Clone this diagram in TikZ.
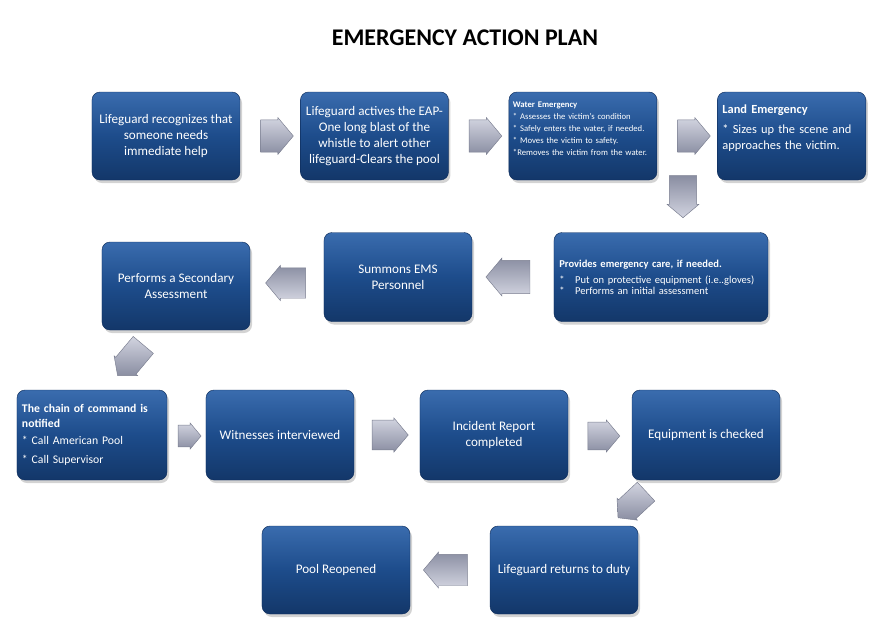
\documentclass[tikz,border=0pt]{standalone}
\usepackage{fontspec}
\setmainfont{Carlito}
\usetikzlibrary{positioning,shapes.arrows,shadows,calc}

\definecolor{boxtop}{HTML}{3A6CAE}
\definecolor{boxmid}{HTML}{1D4C8B}
\definecolor{boxbot}{HTML}{133769}
\definecolor{boxedge}{HTML}{0E2D5C}
\definecolor{arrowtop}{HTML}{D2D4E0}
\definecolor{arrowbot}{HTML}{8A8EA2}
\definecolor{arrowedge}{HTML}{7A7E90}

\begin{document}
\begin{tikzpicture}[
    x=0.03cm, y=-0.03cm,
    box/.style={draw=boxedge, rounded corners=0.24cm, minimum width=4.44cm, minimum height=2.64cm,
        top color=boxtop, bottom color=boxbot, middle color=boxmid, text=white, align=center,
        font=\fontsize{11.2}{13.6}\selectfont,
        drop shadow={opacity=0.35, shadow xshift=0.06cm, shadow yshift=-0.09cm}},
    leftbox/.style={box, align=left, inner xsep=0.18cm},
    blockarrow/.style={single arrow, draw=arrowedge, top color=arrowtop, bottom color=arrowbot,
        inner xsep=0pt, inner ysep=0.36cm, single arrow head extend=0.05cm, single arrow tip angle=100},
    leftarrow/.style={blockarrow, rotate=180, shading angle=180}
]
\useasboundingbox (0,0) rectangle (883,632);

\node[font=\fontsize{20.4}{24}\selectfont\bfseries] (title) at (465,38) {EMERGENCY ACTION PLAN};

% first row
\node[box] (recog) at (166,136) {Lifeguard recognizes that\\someone needs\\immediate help};
\node[box, right=1.8cm of recog] (eap) {Lifeguard actives the EAP-\\One long blast of the\\whistle to alert other\\lifeguard-Clears the pool};
\node[leftbox, right=1.8cm of eap, font=\fontsize{7.4}{10.2}\selectfont, text width=4.2cm, inner xsep=0.1cm] (water)
    {\textbf{Water Emergency}\\{*} Assesses the victim's condition\\{*} Safely enters the water, if needed.\\{*} Moves the victim to safety.\\{*}Removes the victim from the water.\\[2pt]\mbox{}};
\node[leftbox, right=1.8cm of water, text width=4.15cm, inner xsep=0.15cm, font=\fontsize{10.6}{13.2}\selectfont] (land)
    {\textbf{Land Emergency}\\[4pt]{*} Sizes up the scene and\\approaches the victim.\\[2pt]\mbox{}};

% second row
\node[leftbox, minimum width=6.42cm, minimum height=2.67cm, text width=6.1cm, inner xsep=0.16cm, font=\fontsize{9}{9.6}\selectfont] (care) at (661,277)
    {\textbf{Provides emergency care, if needed.}\\[4pt]{*}\quad Put on protective equipment (i.e..gloves)\\{*}\quad Performs an initial assessment};
\node[box, minimum height=2.67cm] (ems) at (398,277) {Summons EMS\\Personnel};
\node[box] (second) at (176,286) {Performs a Secondary\\Assessment};

% third row
\node[leftbox, minimum height=2.7cm, text width=4.2cm, inner xsep=0.15cm, font=\fontsize{10}{12}\selectfont] (chain) at (92,435)
    {\textbf{The chain of command is}\\\textbf{notified}\\[3pt]{*} Call American Pool\\[4pt]{*} Call Supervisor};
\node[box, minimum height=2.7cm] (witness) at (280,435) {Witnesses interviewed};
\node[box, minimum height=2.7cm] (report) at (494,435) {Incident Report\\completed};
\node[box, minimum height=2.7cm] (equip) at (706,435) {Equipment is checked};

% last row
\node[box] (duty) at (564,570) {Lifeguard returns to duty};
\node[box] (reopen) at (336,570) {Pool Reopened};

% block arrows
\node[blockarrow, minimum height=0.98cm, minimum width=1.1cm] (a1) at ($(recog.east)!0.5!(eap.west)$) {};
\node[blockarrow, minimum height=0.98cm, minimum width=1.1cm] (a2) at ($(eap.east)!0.5!(water.west)$) {};
\node[blockarrow, minimum height=0.98cm, minimum width=1.1cm] (a3) at ($(water.east)!0.5!(land.west)$) {};
\node[blockarrow, rotate=-90, shading angle=180, minimum height=1.26cm, minimum width=0.95cm, inner ysep=0.3cm] (a4) at (683,191) {};
\node[leftarrow, minimum height=1.32cm, minimum width=1.14cm, inner ysep=0.36cm] (a5) at (515,277) {};
\node[leftarrow, minimum height=1.2cm, minimum width=1.05cm, inner ysep=0.33cm] (a6) at (292,283) {};
\node[blockarrow, rotate=230, minimum height=1.2cm, minimum width=0.92cm, inner ysep=0.3cm] (a7) at (134,356) {};
\node[blockarrow, minimum height=0.69cm, minimum width=0.78cm, inner ysep=0.25cm] (a8) at (185,436) {};
\node[blockarrow, minimum height=1.08cm, minimum width=1.02cm, inner ysep=0.33cm] (a9) at (384,435) {};
\node[blockarrow, minimum height=0.96cm, minimum width=0.96cm, inner ysep=0.31cm] (a10) at (598,436) {};
\node[blockarrow, rotate=223, minimum height=1.15cm, minimum width=0.9cm, inner ysep=0.29cm] (a11) at (636,501) {};
\node[leftarrow, minimum height=1.32cm, minimum width=1.08cm, inner ysep=0.34cm] (a12) at (452,570) {};
\end{tikzpicture}
\end{document}
